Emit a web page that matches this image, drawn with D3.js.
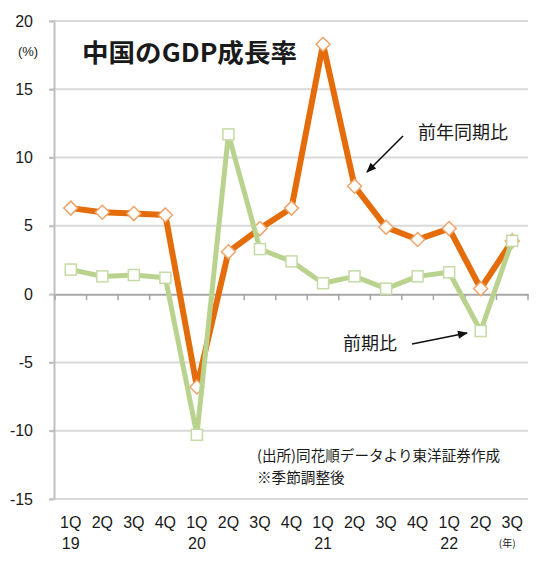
<!DOCTYPE html>
<html>
<head>
<meta charset="utf-8">
<script src="https://cdn.jsdelivr.net/npm/d3@7"></script>
<style>
  html, body { margin: 0; padding: 0; background: #fff; }
  svg { display: block; }
  text { font-family: "Liberation Sans", Arial, "Noto Sans CJK JP", sans-serif; fill: #1a1a1a; }
  .jp { font-family: "Noto Sans CJK JP", sans-serif; }
</style>
</head>
<body>
<svg id="chart" width="540" height="576"></svg>
<script>
const quarters = ["1Q","2Q","3Q","4Q","1Q","2Q","3Q","4Q","1Q","2Q","3Q","4Q","1Q","2Q","3Q"];
const years    = ["19","","","","20","","","","21","","","","22","",""];
const yoyGrowth = [6.3, 6.0, 5.9, 5.8, -6.8, 3.1, 4.8, 6.3, 18.3, 7.9, 4.9, 4.0, 4.8, 0.4, 3.9];
const qoqGrowth = [1.8, 1.3, 1.4, 1.2, -10.3, 11.7, 3.3, 2.4, 0.8, 1.3, 0.4, 1.3, 1.6, -2.7, 3.9];
const yTicks = [-15, -10, -5, 0, 5, 10, 15, 20];
const titleText = "中国のGDP成長率";
const unitText = "(%)";
const yearUnitText = "(年)";
const yoyLabel = "前年同期比";
const qoqLabel = "前期比";
const sourceLines = ["(出所)同花順データより東洋証券作成", "※季節調整後"];

const svg = d3.select("#chart");
const plotLeft = 55, plotRight = 528, plotTop = 21, plotBottom = 499;

const x = d3.scaleBand().domain(quarters.map((q, i) => i)).range([plotLeft, plotRight]).padding(0);
const y = d3.scaleLinear().domain([-15, 20]).range([plotBottom, plotTop]);
const cx = i => x(i) + x.bandwidth() / 2;

// gridlines
svg.append("g").selectAll("line").data(yTicks.filter(t => t !== 0)).join("line")
  .attr("x1", plotLeft - 5).attr("x2", plotRight)
  .attr("y1", d => y(d)).attr("y2", d => y(d))
  .attr("stroke", "#d9d9d9").attr("stroke-width", 2);

// y axis
const yAxis = svg.append("g").attr("transform", `translate(${plotLeft - 1},0)`)
  .call(d3.axisLeft(y).tickValues(yTicks).tickFormat(d => String(d))
    .tickSize(5).tickSizeOuter(0).tickPadding(16));
yAxis.select(".domain").attr("stroke", "#bfbfbf").attr("stroke-width", 2);
yAxis.selectAll(".tick line").attr("stroke", "#bfbfbf").attr("stroke-width", 2);
yAxis.selectAll(".tick text").attr("font-size", 16).attr("fill", "#1a1a1a")
  .style("font-family", "'Liberation Sans', Arial, sans-serif");

// x axis at zero
const xAxis = svg.append("g").attr("transform", `translate(0,${y(0)})`)
  .call(d3.axisBottom(x).tickValues([]).tickSizeOuter(0));
xAxis.select(".domain").attr("stroke", "#a6a6a6").attr("stroke-width", 2);
const boundaries = d3.range(quarters.length + 1).map(i => plotLeft + i * x.bandwidth());
xAxis.selectAll("line.bt").data(boundaries).join("line").attr("class", "bt")
  .attr("x1", d => d).attr("x2", d => d).attr("y1", 0).attr("y2", 6)
  .attr("stroke", "#a6a6a6").attr("stroke-width", 1.5);

// x category labels at bottom
const labels = svg.append("g");
labels.selectAll("text.q").data(quarters).join("text").attr("class", "q")
  .attr("x", (d, i) => cx(i)).attr("y", 528)
  .attr("text-anchor", "middle").attr("font-size", 16).text(d => d);
labels.selectAll("text.yr").data(years).join("text").attr("class", "yr")
  .attr("x", (d, i) => cx(i)).attr("y", 549)
  .attr("text-anchor", "middle").attr("font-size", 16).text(d => d);
labels.append("text").attr("class", "jp").attr("x", cx(quarters.length - 1) - 5).attr("y", 547)
  .attr("text-anchor", "middle").attr("font-size", 10).text(yearUnitText);

// unit and title
svg.append("text").attr("x", 28).attr("y", 56).attr("text-anchor", "middle")
  .attr("font-size", 13).text(unitText);
svg.append("text").attr("class", "jp").attr("x", 82).attr("y", 62)
  .attr("font-size", 25).attr("font-weight", "bold")
  .attr("textLength", 215).attr("lengthAdjust", "spacingAndGlyphs").text(titleText);

// source note
svg.append("g").selectAll("text").data(sourceLines).join("text").attr("class", "jp")
  .attr("x", 257).attr("y", (d, i) => 461 + i * 22).attr("font-size", 14.6)
  .text(d => d);

// lines
const line = d3.line().x((d, i) => cx(i)).y(d => y(d));
const orange = "#e46c0a", green = "#b9d38f";

svg.append("path").datum(yoyGrowth).attr("d", line)
  .attr("fill", "none").attr("stroke", orange).attr("stroke-width", 6).attr("stroke-linejoin", "round");
svg.append("g").selectAll("path").data(yoyGrowth).join("path")
  .attr("transform", (d, i) => `translate(${cx(i)},${y(d)})`)
  .attr("d", "M0,-7 L7,0 L0,7 L-7,0 Z")
  .attr("fill", "#fff").attr("stroke", "#f0a46a").attr("stroke-width", 1.5);

svg.append("path").datum(qoqGrowth).attr("d", line)
  .attr("fill", "none").attr("stroke", green).attr("stroke-width", 5).attr("stroke-linejoin", "round");
svg.append("g").selectAll("rect").data(qoqGrowth).join("rect")
  .attr("x", (d, i) => cx(i) - 5.5).attr("y", d => y(d) - 5.5)
  .attr("width", 11).attr("height", 11)
  .attr("fill", "#fff").attr("stroke", "#c5dba6").attr("stroke-width", 1.5);

// annotation arrows
const defs = svg.append("defs");
defs.append("marker").attr("id", "arrow").attr("viewBox", "0 0 10 10")
  .attr("refX", 9).attr("refY", 5)
  .attr("orient", "auto-start-reverse").attr("markerUnits", "userSpaceOnUse")
  .attr("markerWidth", 12).attr("markerHeight", 10)
  .append("path").attr("d", "M0,1 L10,5 L0,9 Z").attr("fill", "#111");

svg.append("line").attr("x1", 403).attr("y1", 136).attr("x2", 367).attr("y2", 172)
  .attr("stroke", "#111").attr("stroke-width", 1.6).attr("marker-end", "url(#arrow)");
svg.append("line").attr("x1", 412).attr("y1", 344).attr("x2", 467).attr("y2", 333)
  .attr("stroke", "#111").attr("stroke-width", 1.6).attr("marker-end", "url(#arrow)");

svg.append("text").attr("class", "jp").attr("x", 418).attr("y", 139)
  .attr("font-size", 18).text(yoyLabel);
svg.append("text").attr("class", "jp").attr("x", 343).attr("y", 350)
  .attr("font-size", 18).text(qoqLabel);
</script>
</body>
</html>
